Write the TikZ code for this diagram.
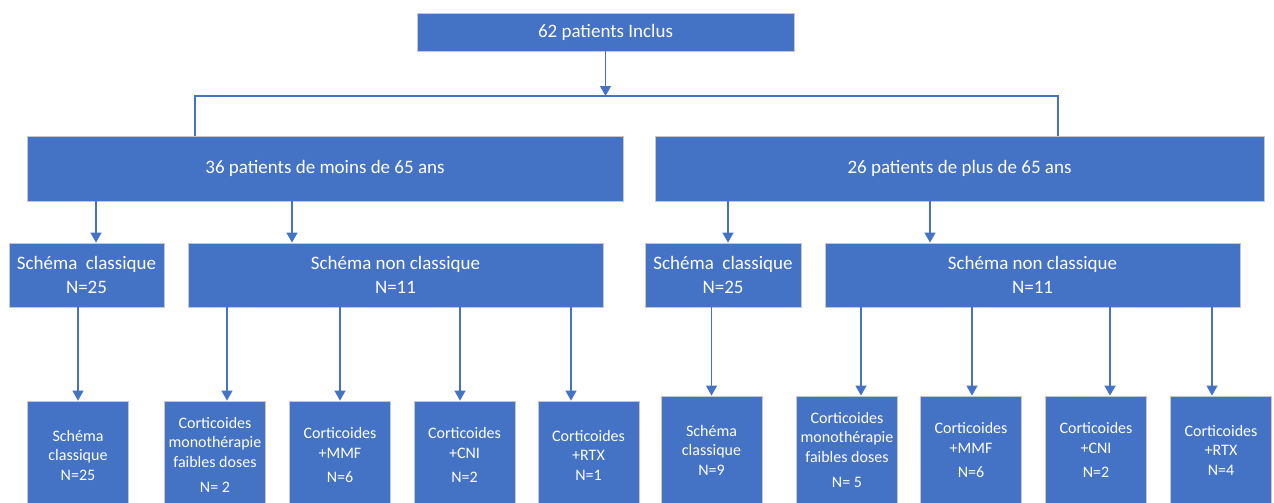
\documentclass[tikz,border=0pt]{standalone}
\usepackage{fontspec}
\setmainfont{Carlito}
\usetikzlibrary{arrows.meta}
\definecolor{boxblue}{HTML}{4472C4}
\newcommand\bigtxt{\fontsize{19}{23.5}\selectfont}
\newcommand\smalltxt{\fontsize{16}{19.5}\selectfont}
\tikzset{
  box/.style={rectangle, fill=boxblue, draw=black!22, line width=0.8pt, text=white, align=center, inner sep=2pt},
  lowbox/.style={box, font=\smalltxt, minimum width=101pt, minimum height=108pt},
  arr/.style={draw=boxblue, line width=1.2pt, -{Triangle[width=11pt,length=10pt]}},
  lnk/.style={draw=boxblue, line width=1.1pt},
}
\begin{document}
\begin{tikzpicture}[x=1pt,y=-1pt]
     \path[use as bounding box, clip] (0,0) rectangle (1274,503);
     % top
     \node[box, font=\bigtxt, minimum width=377pt, minimum height=38pt] (top) at (605.5,32) {62 patients Inclus};
     \coordinate (split) at (605.5,96);
     \coordinate (ljoin) at (195,96);
     \coordinate (rjoin) at (1058,96);
     % age groups
     \node[box, font=\bigtxt, minimum width=596pt, minimum height=65pt] (young) at (325,168.5) {36 patients de moins de 65 ans};
     \node[box, font=\bigtxt, minimum width=609pt, minimum height=65pt] (old) at (959.5,168.5) {26 patients de plus de 65 ans};
     % schemas
     \node[box, font=\bigtxt, minimum width=155pt, minimum height=64pt] (ycl) at (86.5,275) {Schéma\ \ classique\\N=25};
     \node[box, font=\bigtxt, minimum width=415pt, minimum height=64pt] (ync) at (395.5,275) {Schéma non classique\\N=11};
     \node[box, font=\bigtxt, minimum width=156pt, minimum height=64pt] (ocl) at (723,275) {Schéma\ \ classique\\N=25};
     \node[box, font=\bigtxt, minimum width=415pt, minimum height=64pt] (onc) at (1032.5,275) {Schéma non classique\\N=11};
     % treatments, under 65
     \node[lowbox] (y1) at (78,455) {Schéma\\classique\\N=25};
     \node[lowbox] (y2) at (215,455) {Corticoides\\monothérapie\\faibles doses\\[6pt]N= 2};
     \node[lowbox] (y3) at (340,455) {Corticoides\\+MMF\\[5pt]N=6};
     \node[lowbox] (y4) at (464.5,455) {Corticoides\\+CNI\\[5pt]N=2};
     \node[lowbox] (y5) at (588.5,455) {Corticoides\\+RTX\\N=1};
     % treatments, over 65
     \node[lowbox] (o1) at (711.5,450) {Schéma\\classique\\N=9};
     \node[lowbox] (o2) at (847,450) {Corticoides\\monothérapie\\faibles doses\\[6pt]N= 5};
     \node[lowbox] (o3) at (971,450) {Corticoides\\+MMF\\[5pt]N=6};
     \node[lowbox] (o4) at (1096,450) {Corticoides\\+CNI\\[5pt]N=2};
     \node[lowbox] (o5) at (1221,450) {Corticoides\\+RTX\\N=4};
     % connectors
     \draw[arr] (top) -- (split);
     \draw[lnk] (young.north -| ljoin) |- (rjoin) -- (old.north -| rjoin);
     \draw[arr] (young.south -| 96,0) -- (ycl.north -| 96,0);
     \draw[arr] (young.south -| 292,0) -- (ync.north -| 292,0);
     \draw[arr] (old.south -| 728,0) -- (ocl.north -| 728,0);
     \draw[arr] (old.south -| 930,0) -- (onc.north -| 930,0);
     \draw[arr] (ycl.south -| y1) -- (y1);
     \draw[arr] (ync.south -| 227,0) -- (y2.north -| 227,0);
     \draw[arr] (ync.south -| 340,0) -- (y3.north -| 340,0);
     \draw[arr] (ync.south -| 460,0) -- (y4.north -| 460,0);
     \draw[arr] (ync.south -| 571,0) -- (y5.north -| 571,0);
     \draw[arr] (ocl.south -| o1) -- (o1);
     \draw[arr] (onc.south -| 861,0) -- (o2.north -| 861,0);
     \draw[arr] (onc.south -| 972,0) -- (o3.north -| 972,0);
     \draw[arr] (onc.south -| 1110,0) -- (o4.north -| 1110,0);
     \draw[arr] (onc.south -| 1212,0) -- (o5.north -| 1212,0);
\end{tikzpicture}
\end{document}
